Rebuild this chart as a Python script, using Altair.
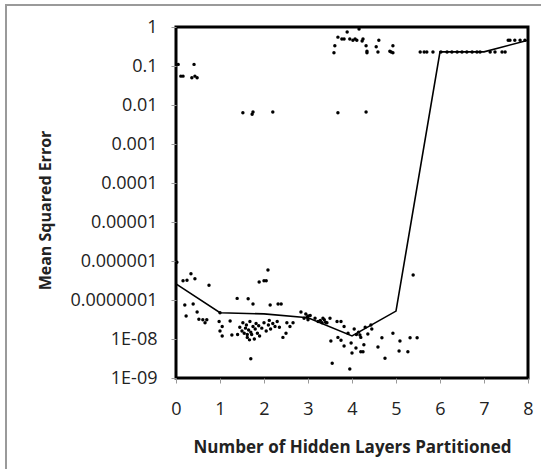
import altair as alt
import pandas as pd

# Scatter observations: x = hidden layers partitioned, y = mean squared error
pts_x = [
    # top-left cluster near 0.1
    0.05, 0.11, 0.16, 0.36, 0.41, 0.43, 0.48,
    # ~0.006 group
    1.52, 1.73, 1.75, 2.20, 3.68, 4.32,
    # upper cluster 3.5-5
    3.59, 3.61, 3.68, 3.77, 3.82, 3.89, 3.95, 4.02, 4.07, 4.11, 4.16, 4.23, 4.25,
    4.32, 4.34, 4.34, 4.55, 4.59, 4.61, 4.86, 4.89, 4.93, 4.93,
    # row at ~0.23
    5.55, 5.64, 5.70, 5.84, 6.02, 6.16, 6.27, 6.39, 6.50, 6.61, 6.73, 6.84, 6.91,
    7.14, 7.25, 7.41, 7.48,
    # near 8
    7.55, 7.59, 7.70, 7.82, 7.93,
    # lower: 0-1
    0.02, 0.16, 0.25, 0.34, 0.43, 0.75, 0.20, 0.39, 0.48, 0.23, 0.52, 0.61, 0.70, 0.66,
    # around 1-2
    1.00, 0.98, 1.05, 1.00, 1.05, 1.23, 1.27, 1.39, 1.64, 1.75, 1.89, 2.00, 2.09, 2.05, 1.70,
    # dense cluster 1.4-2.4
    1.40, 1.45, 1.50, 1.52, 1.55, 1.58, 1.60, 1.62, 1.65, 1.68, 1.70, 1.72, 1.75, 1.78,
    1.80, 1.82, 1.85, 1.88, 1.90, 1.95, 2.00, 2.05, 2.10, 2.12, 2.15, 2.20, 2.25, 2.30,
    2.35, 1.62, 1.67,
    # 2-4.3
    2.14, 2.32, 2.39, 2.50, 2.43, 2.52, 2.59, 2.66, 2.84, 2.91, 3.00, 3.00, 3.16, 3.23,
    3.34, 3.32, 3.43, 3.50, 3.66, 3.75, 3.82, 3.52, 3.68, 3.75, 3.82, 3.91, 3.98, 4.05,
    4.09, 4.00, 3.55, 3.95, 4.18, 4.25, 2.95, 2.98, 3.05, 3.28, 3.37, 3.40,
    4.10, 4.15, 4.20, 4.30,
    # 4.2-5.5
    4.43, 4.45, 4.36, 4.27, 4.20, 4.59, 4.68, 4.75, 4.93, 5.09, 5.07, 5.27, 5.32, 5.48, 5.39,
]
pts_y = [
    0.11, 0.055, 0.055, 0.05, 0.11, 0.055, 0.05,
    0.0063, 0.0058, 0.0066, 0.0066, 0.0063, 0.0066,
    0.22, 0.33, 0.55, 0.49, 0.49, 0.74, 0.49, 0.46, 0.49, 0.46, 0.89, 0.44, 0.49,
    0.33, 0.24, 0.22, 0.31, 0.23, 0.46, 0.24, 0.23, 0.33, 0.22,
    0.23, 0.23, 0.23, 0.23, 0.23, 0.23, 0.23, 0.23, 0.23, 0.23, 0.23, 0.23, 0.23,
    0.23, 0.23, 0.23, 0.23,
    0.46, 0.46, 0.46, 0.46, 0.46,
    9.3e-7, 3.1e-7, 3.2e-7, 4.7e-7, 3.5e-7, 2.4e-7, 7.4e-8, 7.9e-8, 4.9e-8, 3.9e-8, 3.2e-8, 3.1e-8, 3.1e-8, 2.6e-8,
    4.7e-8, 2.8e-8, 2.1e-8, 1.6e-8, 1.2e-8, 2.9e-8, 1.26e-8, 1.1e-7, 1.07e-7, 7.9e-8, 2.9e-7, 3.1e-7, 5.9e-7, 3.1e-7, 3.1e-9,
    1.3e-8, 2.0e-8, 1.6e-8, 2.6e-8, 1.4e-8, 1.9e-8, 2.3e-8, 1.1e-8, 1.7e-8, 2.8e-8, 1.5e-8, 1.3e-8, 2.1e-8, 1.0e-8,
    1.8e-8, 2.5e-8, 1.4e-8, 2.2e-8, 1.2e-8, 1.9e-8, 2.6e-8, 1.6e-8, 2.3e-8, 3.0e-8, 1.8e-8, 2.5e-8, 2.1e-8, 2.8e-8,
    2.0e-8, 1.3e-8, 9.5e-9,
    7.4e-8, 7.9e-8, 7.9e-8, 1.4e-8, 1.1e-8, 2.6e-8, 2.1e-8, 2.6e-8, 4.9e-8, 3.4e-8, 3.9e-8, 3.1e-8, 3.4e-8, 2.8e-8,
    3.4e-8, 2.6e-8, 2.6e-8, 3.4e-8, 2.8e-8, 2.8e-8, 2.1e-8, 8.9e-9, 1.1e-8, 9.3e-9, 6.6e-9, 1.4e-8, 7.9e-9, 1.8e-8,
    5.9e-9, 4.4e-9, 2.4e-9, 1.7e-9, 1.26e-8, 4.7e-9, 4.4e-8, 3.6e-8, 4.0e-8, 3.0e-8, 3.1e-8, 2.7e-8,
    1.3e-8, 1.5e-8, 1.1e-8, 2.0e-8,
    2.3e-8, 1.8e-8, 1.35e-8, 7.1e-9, 4.7e-9, 6.2e-9, 1.07e-8, 3.2e-9, 1.4e-8, 8.9e-9, 4.9e-9, 4.7e-9, 1.07e-8, 1.07e-8, 4.4e-7,
]

# Mean line
line_x = [0, 1, 2, 3, 4, 5, 6, 7, 8]
line_y = [2.6e-7, 4.7e-8, 4.4e-8, 3.5e-8, 1.2e-8, 5.2e-8, 0.23, 0.23, 0.46]

y_ticks = [1e-9, 1e-8, 1e-7, 1e-6, 1e-5, 1e-4, 1e-3, 1e-2, 1e-1, 1]
y_labels = ["1E-09", "1E-08", "0.0000001", "0.000001", "0.00001", "0.0001",
            "0.001", "0.01", "0.1", "1"]
x_ticks = [0, 1, 2, 3, 4, 5, 6, 7, 8]

pts = pd.DataFrame({"x": pts_x, "y": pts_y})
line = pd.DataFrame({"x": line_x, "y": line_y})

FONT = "Open Sans"
label_arr = "[" + ",".join("'%s'" % s for s in y_labels) + "]"

xscale = alt.Scale(domain=[0, 8], nice=False, zero=False)
yscale = alt.Scale(type="log", domain=[1e-9, 1], nice=False)

xaxis = alt.Axis(values=x_ticks, title="Number of Hidden Layers Partitioned",
                 grid=False, domain=False, tickColor="#999", tickSize=5,
                 labelPadding=17, labelFontSize=18, labelFont=FONT, labelColor="#222",
                 labelFlush=False,
                 titleFont=FONT, titleFontSize=17, titleFontWeight="bold", titleColor="#222",
                 titleX=176, titleY=69, titleBaseline="middle", titleAnchor="middle")
yaxis = alt.Axis(values=y_ticks, title="Mean Squared Error",
                 labelExpr=label_arr + "[round(log(datum.value)/LN10)+9]",
                 grid=False, domain=False, tickColor="#999", tickSize=5,
                 labelPadding=14, labelFontSize=18, labelFont=FONT, labelColor="#222",
                 labelFlush=False,
                 titleFont=FONT, titleFontSize=16, titleFontWeight="bold", titleColor="#222",
                 titleX=-131, titleY=183, titleBaseline="middle", titleAngle=-90,
                 titleAnchor="middle")

frame = alt.Chart(pd.DataFrame({"a": [0]})).mark_rect(
    fill=None, stroke="#9a9a9a", strokeWidth=2
).encode(x=alt.value(-170), y=alt.value(-22), x2=alt.value(420), y2=alt.value(520))

scatter = alt.Chart(pts).mark_circle(size=12, color="black", opacity=1).encode(
    x=alt.X("x:Q", scale=xscale, axis=xaxis),
    y=alt.Y("y:Q", scale=yscale, axis=yaxis),
)

ln = alt.Chart(line).mark_line(color="black", strokeWidth=1.6).encode(
    x=alt.X("x:Q", scale=xscale),
    y=alt.Y("y:Q", scale=yscale),
)

chart = alt.layer(frame, scatter, ln).properties(
    width=352, height=351,
    autosize=alt.AutoSizeParams(type="none"),
    padding={"left": 176, "top": 27, "right": 13, "bottom": 91},
    background="white",
).configure_view(stroke="black", strokeWidth=3)

chart.save("out.html", embed_options={"renderer": "svg", "actions": False})
